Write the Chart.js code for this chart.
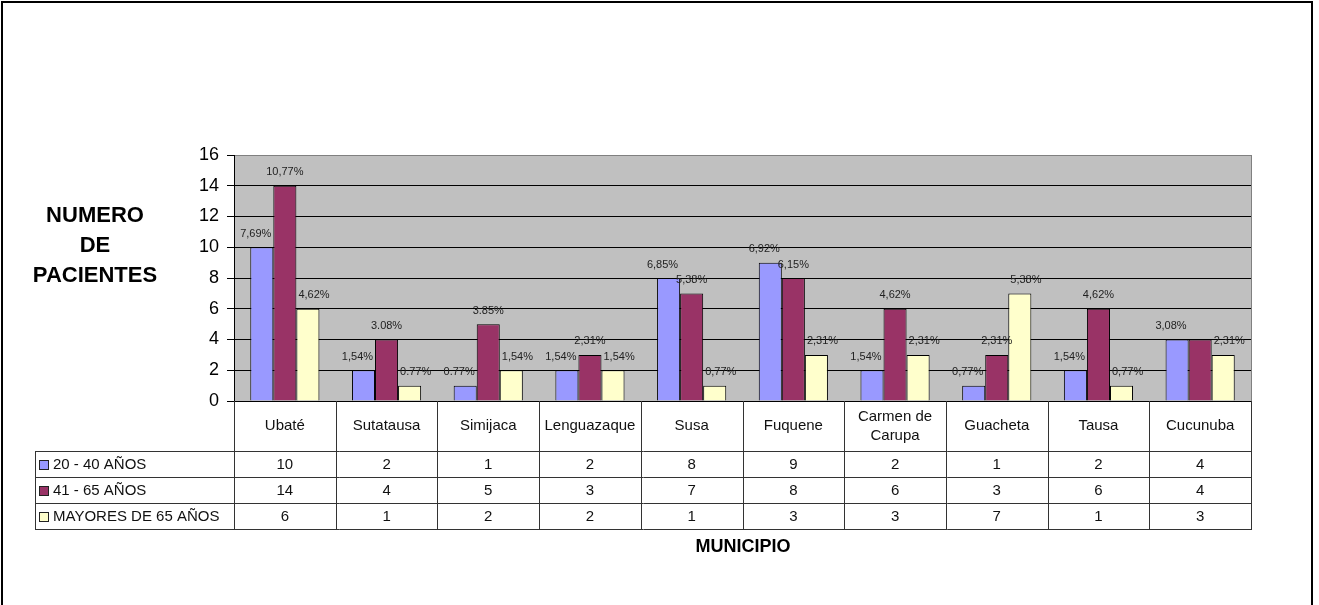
<!DOCTYPE html>
<html>
<head>
<meta charset="utf-8">
<script src="https://cdn.jsdelivr.net/npm/chart.js@4.4.1/dist/chart.umd.min.js"></script>
<style>
  html, body { margin: 0; padding: 0; background: #fff; }
  #wrap { position: relative; width: 1319px; height: 605px; }
</style>
</head>
<body>
<div id="wrap"><canvas id="grafica" width="1319" height="605"></canvas></div>
<script>
var municipios = ['Ubaté', 'Sutatausa', 'Simijaca', 'Lenguazaque', 'Susa',
    'Fuquene', ['Carmen de', 'Carupa'], 'Guacheta', 'Tausa', 'Cucunuba'];

var series = ['20 - 40 AÑOS', '41 - 65 AÑOS', 'MAYORES DE 65 AÑOS'];

var edad20a40 = [10, 2, 1, 2, 8, 9, 2, 1, 2, 4];
var edad41a65 = [14, 4, 5, 3, 7, 8, 6, 3, 6, 4];
var mayores65 = [6, 1, 2, 2, 1, 3, 3, 7, 1, 3];

var pct20a40 = ['7,69%', '1,54%', '0.77%', '1,54%', '6,85%', '6,92%', '1,54%', '0,77%', '1,54%', '3,08%'];
var pct41a65 = ['10,77%', '3.08%', '3.85%', '2,31%', '5,38%', '6,15%', '4,62%', '2,31%', '4,62%', ''];
var pctMay65 = ['4,62%', '0.77%', '1,54%', '1,54%', '0,77%', '2,31%', '2,31%', '5,38%', '0,77%', '2,31%'];

var colores = ['#9999FF', '#993366', '#FFFFCC'];
var etiquetas = [pct20a40, pct41a65, pctMay65];
var alineacion = ['right', 'center', 'left'];

var FUENTE = 'Arial, "Liberation Sans", sans-serif';

// fondo gris del area de trazado y marco exterior
var fondoPlugin = {
    id: 'fondo',
    beforeDraw: function (chart) {
        var c = chart.ctx, a = chart.chartArea;
        c.save();
        c.fillStyle = '#fff';
        c.fillRect(0, 0, chart.width, chart.height);
        c.fillStyle = '#C0C0C0';
        c.fillRect(a.left, a.top, a.right - a.left, a.bottom - a.top);
        c.strokeStyle = '#808080';
        c.lineWidth = 1;
        c.beginPath();
        c.moveTo(a.right + 0.5, a.top);
        c.lineTo(a.right + 0.5, a.bottom);
        c.stroke();
        // marco
        c.strokeStyle = '#000';
        c.lineWidth = 2;
        c.beginPath();
        c.moveTo(2, chart.height);
        c.lineTo(2, 2);
        c.lineTo(1312, 2);
        c.lineTo(1312, chart.height);
        c.stroke();
        c.restore();
    }
};

// porcentajes sobre las barras
var etiquetasPlugin = {
    id: 'etiquetas',
    afterDatasetsDraw: function (chart) {
        var c = chart.ctx;
        c.save();
        c.font = '11px ' + FUENTE;
        c.fillStyle = '#222';
        c.textBaseline = 'bottom';
        chart.data.datasets.forEach(function (ds, i) {
            var meta = chart.getDatasetMeta(i);
            meta.data.forEach(function (bar, j) {
                var txt = etiquetas[i][j];
                if (!txt) return;
                var x = bar.x;
                if (alineacion[i] === 'right') x = bar.x + bar.width / 2 - 2;
                if (alineacion[i] === 'left') x = bar.x - bar.width / 2 + 2;
                c.textAlign = alineacion[i];
                c.fillText(txt, x, bar.y - 8);
            });
        });
        c.restore();
    }
};

// tabla de datos bajo el eje x, titulos
var tablaPlugin = {
    id: 'tabla',
    afterDraw: function (chart) {
        var c = chart.ctx, a = chart.chartArea;
        var xs = chart.scales.x;
        var n = municipios.length;
        var w = (a.right - a.left) / n;
        var filas = [451, 477, 503, 529];
        var izq = 35;
        c.save();
        c.strokeStyle = '#333';
        c.lineWidth = 1;
        c.beginPath();
        for (var i = 0; i <= n; i++) {
            var x = Math.round(a.left + i * w) + 0.5;
            c.moveTo(x, a.bottom);
            c.lineTo(x, filas[3]);
        }
        filas.forEach(function (y) {
            c.moveTo(izq, y + 0.5);
            c.lineTo(a.right + 1, y + 0.5);
        });
        c.moveTo(izq + 0.5, filas[0]);
        c.lineTo(izq + 0.5, filas[3]);
        c.stroke();

        c.fillStyle = '#111';
        c.textAlign = 'center';
        c.textBaseline = 'middle';
        c.font = '15px ' + FUENTE;
        municipios.forEach(function (m, j) {
            var cx = xs.getPixelForValue(j);
            var cy = (a.bottom + filas[0]) / 2;
            if (Array.isArray(m)) {
                c.fillText(m[0], cx, cy - 9);
                c.fillText(m[1], cx, cy + 10);
            } else {
                c.fillText(m, cx, cy);
            }
        });

        chart.data.datasets.forEach(function (ds, i) {
            var cy = (filas[i] + filas[i + 1]) / 2 + 1;
            c.textAlign = 'center';
            c.fillStyle = '#111';
            ds.data.forEach(function (v, j) {
                c.fillText(String(v), xs.getPixelForValue(j), cy);
            });
            c.fillStyle = colores[i];
            c.fillRect(39, cy - 5, 9, 9);
            c.strokeStyle = '#222';
            c.strokeRect(39.5, cy - 4.5, 9, 9);
            c.fillStyle = '#111';
            c.textAlign = 'left';
            c.fillText(series[i], 53, cy);
        });

        // titulos
        c.font = 'bold 18px ' + FUENTE;
        c.textAlign = 'center';
        c.fillStyle = '#000';
        c.fillText('MUNICIPIO', 743, 547);
        c.font = 'bold 22px ' + FUENTE;
        c.fillText('NUMERO', 95, 216);
        c.fillText('DE', 95, 246);
        c.fillText('PACIENTES', 95, 276);
        c.restore();
    }
};

new Chart(document.getElementById('grafica'), {
    type: 'bar',
    data: {
        labels: municipios,
        datasets: series.map(function (s, i) {
            return {
                label: s,
                data: [edad20a40, edad41a65, mayores65][i],
                backgroundColor: colores[i],
                borderColor: '#000',
                borderWidth: 1,
                categoryPercentage: 0.68,
                barPercentage: 1.0
            };
        })
    },
    options: {
        responsive: false,
        animation: false,
        layout: {
            padding: { left: 0, right: 68, top: 155, bottom: 204 }
        },
        plugins: {
            legend: { display: false },
            tooltip: { enabled: false }
        },
        scales: {
            x: {
                display: false
            },
            y: {
                min: 0,
                max: 16,
                afterFit: function (scale) { scale.width = 234; },
                ticks: {
                    stepSize: 2,
                    color: '#000',
                    padding: 8,
                    font: { family: FUENTE, size: 18 }
                },
                grid: {
                    color: function (ctx) {
                        return ctx.tick && ctx.tick.value === 16 ? '#808080' : '#000';
                    },
                    tickColor: '#000',
                    tickLength: 7
                },
                border: { color: '#000' }
            }
        }
    },
    plugins: [fondoPlugin, etiquetasPlugin, tablaPlugin]
});
</script>
</body>
</html>
